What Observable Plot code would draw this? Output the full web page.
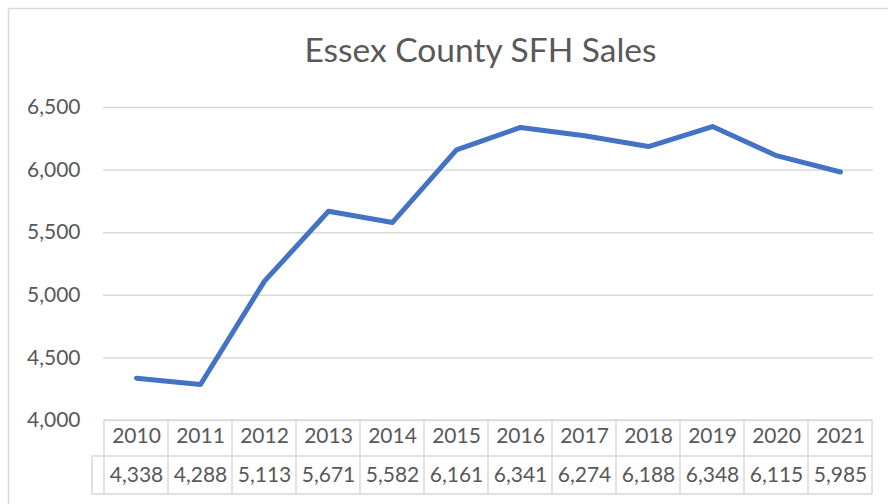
<!DOCTYPE html>
<html>
<head>
<meta charset="utf-8">
<script src="https://cdn.jsdelivr.net/npm/d3@7"></script>
<script src="https://cdn.jsdelivr.net/npm/@observablehq/plot@0.6"></script>
<style>
  html, body { margin: 0; padding: 0; background: #fff; }
</style>
</head>
<body>
<div id="chart"></div>
<script>
const title = "Essex County SFH Sales";
const years = ["2010","2011","2012","2013","2014","2015","2016","2017","2018","2019","2020","2021"];
const sales = [4338, 4288, 5113, 5671, 5582, 6161, 6341, 6274, 6188, 6348, 6115, 5985];
const yTicks = [4000, 4500, 5000, 5500, 6000, 6500];

const table = years.map((year, i) => ({year, sales: sales[i]}));
const fmt = d3.format(",");
const FONT = "Lato, 'Open Sans', sans-serif";
const GRID = "#d9d9d9";

// table borders and outer chart frame, positioned from the x scale
function tableMark(index, scales, values, dim) {
  const x = scales.x;
  const step = x(years[1]) - x(years[0]);
  const top = dim.height - dim.marginBottom;
  const mid = top + 36;
  const bot = top + 74;
  const left = x(years[0]) - step / 2;
  const right = x(years[years.length - 1]) + step / 2;
  const g = d3.create("svg:g")
    .attr("stroke", GRID).attr("stroke-width", 1.5).attr("fill", "none");
  // outer chart frame
  g.append("path").attr("d", `M8.5,${dim.height + 5}V8.5H${dim.width + 5}`);
  // horizontal table rules
  for (const yy of [top, mid, bot]) {
    g.append("line").attr("x1", left).attr("x2", right).attr("y1", yy).attr("y2", yy);
  }
  // vertical table rules
  const xs = years.map(d => x(d) - step / 2).concat([right]);
  for (const xx of xs) {
    g.append("line").attr("x1", xx).attr("x2", xx).attr("y1", top).attr("y2", bot);
  }
  // legend key cell
  g.append("path").attr("d", `M${left},${mid}H${left - 12}V${bot}H${left}`);
  return g.node();
}

const plot = Plot.plot({
  width: 888,
  height: 504,
  marginLeft: 103,
  marginRight: 15,
  marginTop: 107,
  marginBottom: 84,
  style: { fontFamily: FONT, color: "#595959", background: "#fff", overflow: "visible" },
  x: { type: "point", domain: years, padding: 0.5, axis: null },
  y: { domain: [4000, 6500], axis: null, label: null },
  marks: [
    Plot.gridY(yTicks, { stroke: GRID, strokeOpacity: 1, strokeWidth: 1.5 }),
    Plot.axisY(yTicks, { tickSize: 0, tickPadding: 23, tickFormat: fmt, fontSize: 21,
      fill: "#595959", label: null }),
    tableMark,
    Plot.line(table, { x: "year", y: "sales", stroke: "#4472C4", strokeWidth: 5,
      strokeLinejoin: "round", strokeLinecap: "round" }),
    Plot.text(table, { x: "year", text: "year", frameAnchor: "bottom", dy: 22,
      fontSize: 21, fill: "#595959" }),
    Plot.text(table, { x: "year", text: d => fmt(d.sales), frameAnchor: "bottom", dy: 61,
      fontSize: 21, fill: "#595959" }),
    Plot.text([title], { frameAnchor: "top", dy: -69, dx: -8, fontSize: 33.5,
      fill: "#595959", text: d => d })
  ]
});
document.getElementById("chart").appendChild(plot);
</script>
</body>
</html>
